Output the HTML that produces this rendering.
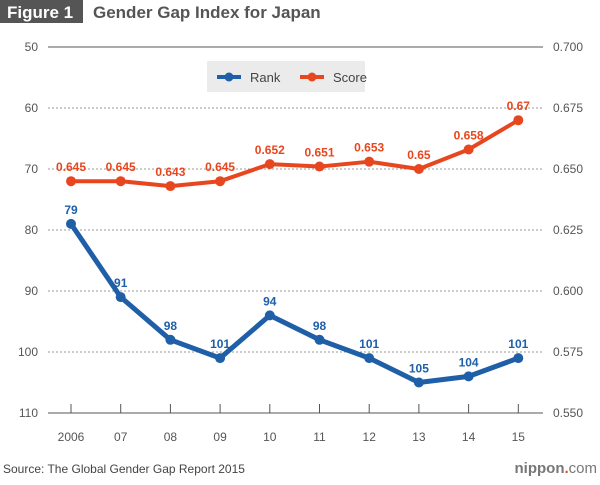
<!DOCTYPE html>
<html><head><meta charset="utf-8"><style>
body{margin:0;background:#fff;font-family:"Liberation Sans",sans-serif;}
svg text{font-family:"Liberation Sans",sans-serif;}
</style></head><body>
<svg width="600" height="480" viewBox="0 0 600 480">
<rect x="0" y="0" width="83" height="23" fill="#555"/>
<text x="7" y="18" font-size="17" font-weight="bold" fill="#fff">Figure 1</text>
<text x="93" y="18" font-size="17" font-weight="bold" fill="#555">Gender Gap Index for Japan</text>
<g id="grid"></g>
<g id="axes"></g>
<rect x="207" y="61" width="158" height="31" fill="#ebebeb"/>
<g>
<line x1="217" y1="77" x2="241" y2="77" stroke="#1f5fa8" stroke-width="4"/>
<circle cx="229" cy="77" r="4.5" fill="#1f5fa8"/>
<text x="250" y="82" font-size="13" fill="#444">Rank</text></g>
<g>
<line x1="300" y1="77" x2="324" y2="77" stroke="#e8461e" stroke-width="4"/>
<circle cx="312" cy="77" r="4.5" fill="#e8461e"/>
<text x="333" y="82" font-size="13" fill="#444">Score</text></g>
<g id="series"></g>
<text x="3" y="473" font-size="12" fill="#444">Source: The Global Gender Gap Report 2015</text>
<text x="597" y="473" font-size="15" font-weight="bold" fill="#777" text-anchor="end">nippon<tspan fill="#e8461e">.</tspan><tspan font-weight="normal">com</tspan></text>
</svg>
<script>
const years=["2006","07","08","09","10","11","12","13","14","15"];
const rank=[79,91,98,101,94,98,101,105,104,101];
const score=[0.645,0.645,0.643,0.645,0.652,0.651,0.653,0.65,0.658,0.67];
const leftTicks=[50,60,70,80,90,100,110];
const rightTicks=["0.700","0.675","0.650","0.625","0.600","0.575","0.550"];
const NS="http://www.w3.org/2000/svg";
const x=i=>71+i*49.7;
const yL=v=>47+(v-50)*6.1;
const yR=v=>47+(0.7-v)/0.15*366;
function mk(t,a,p){const e=document.createElementNS(NS,t);for(const k in a)e.setAttribute(k,a[k]);p.appendChild(e);return e;}
const grid=document.getElementById('grid'),axes=document.getElementById('axes'),ser=document.getElementById('series');
leftTicks.forEach((v,i)=>{
 const y=yL(v);
 const g=mk('line',{x1:48,x2:543,y1:y,y2:y,stroke:i==0||i==6?'#555':'#999','stroke-width':1,'stroke-dasharray':(i==0||i==6)?'':'2,2'},grid);
 
 
 const t=mk('text',{x:38,y:y+4,'font-size':12,fill:'#555','text-anchor':'end'},axes);t.textContent=v;
 
 
 const r=mk('text',{x:553,y:y+4,'font-size':12,fill:'#555'},axes);r.textContent=rightTicks[i];
 
 
});
years.forEach((yr,i)=>{
 const tk=mk('line',{x1:x(i),x2:x(i),y1:404,y2:413,stroke:'#555'},axes);
 
 
 const t=mk('text',{x:x(i),y:441,'font-size':12,fill:'#555','text-anchor':'middle'},axes);t.textContent=yr;
 
 
});
function line(vals,fy,col,name,fmt){
 const pl=mk('polyline',{points:vals.map((v,i)=>x(i)+','+fy(v)).join(' '),fill:'none',stroke:col,'stroke-width':name=='rank'?5:4,'stroke-linejoin':'round'},ser);
 
 
 vals.forEach((v,i)=>{
  const c=mk('circle',{cx:x(i),cy:fy(v),r:5,fill:col},ser);
  
  
  const t=mk('text',{x:x(i),y:fy(v)-10,'font-size':12,'font-weight':'bold',fill:col,'text-anchor':'middle'},ser);
  t.textContent=fmt(v);
  
  
 });
}
line(score,yR,'#e8461e','score',v=>String(v));
line(rank,yL,'#1f5fa8','rank',v=>String(v));
</script>
</body></html>
